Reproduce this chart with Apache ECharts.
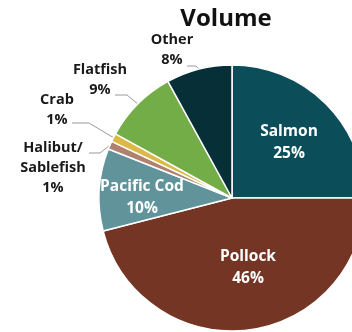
<!DOCTYPE html>
<html>
<head>
<meta charset="utf-8">
<script src="https://cdn.jsdelivr.net/npm/echarts@6/dist/echarts.min.js"></script>
<style>
  html, body { margin: 0; padding: 0; background: #fff; }
  #chart { width: 352px; height: 332px; }
</style>
</head>
<body>
<div id="chart"></div>
<script>
// Harvest volume share by species group (percent)
const categories = ['Salmon', 'Pollock', 'Pacific Cod', 'Halibut/\nSablefish', 'Crab', 'Flatfish', 'Other'];
const shares = [25, 46, 10, 1, 1, 9, 8];
const colors = ['#0c4d5a', '#743525', '#60949a', '#b08170', '#dcb846', '#73ad47', '#062f37'];
const insideSlices = [0, 1, 2];

// Label placement (label centre, anchor of leader line, bend length)
const labelPos = {
  0: { x: 289, y: 143 },
  1: { x: 248, y: 268 },
  2: { x: 142, y: 198 },
  3: { x: 53, y: 168, anchor: [89, 153], bend: 11 },
  4: { x: 57, y: 110, anchor: [72, 123], bend: 17 },
  5: { x: 100, y: 80, anchor: [115, 95], bend: 12 },
  6: { x: 172, y: 50, anchor: [187, 66], bend: 9 }
};

const FONT = '"Open Sans", sans-serif';

const chart = echarts.init(document.getElementById('chart'), null, { renderer: 'canvas' });

const data = categories.map((name, i) => ({
  name: name,
  value: shares[i],
  itemStyle: { color: colors[i] },
  label: insideSlices.includes(i)
    ? { color: '#ffffff', fontSize: 15.5, lineHeight: 22 }
    : { color: '#1a1a1a', fontSize: 14.5, lineHeight: 20 },
  labelLine: { show: !insideSlices.includes(i) }
}));

chart.setOption({
  animation: false,
  title: {
    text: 'Volume',
    left: 221,
    top: 2,
    textAlign: 'center',
    textStyle: { fontFamily: FONT, fontWeight: 'bold', fontSize: 24, color: '#111' }
  },
  series: [{
    type: 'pie',
    center: [232, 198],
    radius: 133,
    startAngle: 90,
    clockwise: true,
    avoidLabelOverlap: false,
    itemStyle: { borderColor: '#ffffff', borderWidth: 1.5 },
    label: {
      show: true,
      fontFamily: FONT,
      fontWeight: 'bold',
      formatter: p => p.name + '\n' + p.value + '%'
    },
    labelLine: {
      show: true,
      lineStyle: { color: '#9a9a9a', width: 1 }
    },
    labelLayout: function (p) {
      const pos = labelPos[p.dataIndex];
      if (!pos) return {};
      const out = { x: pos.x, y: pos.y, align: 'center', verticalAlign: 'middle' };
      if (pos.anchor && p.labelLinePoints) {
        const edge = p.labelLinePoints[0];
        out.labelLinePoints = [
          edge,
          [pos.anchor[0] + pos.bend, pos.anchor[1]],
          pos.anchor
        ];
      }
      return out;
    },
    data: data
  }]
});
</script>
</body>
</html>
